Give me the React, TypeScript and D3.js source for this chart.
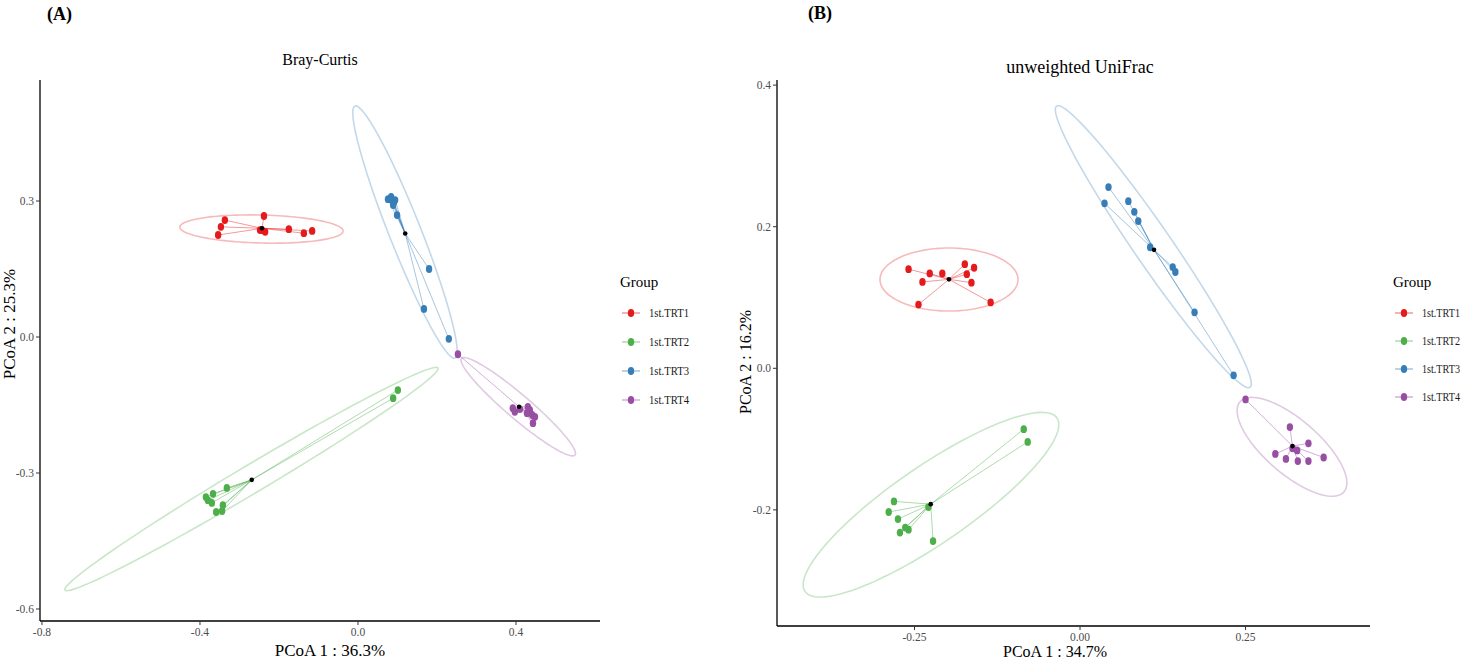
import React from 'react';
import * as d3 from 'd3';

type Pt = [number, number];

const groups = ['1st.TRT1', '1st.TRT2', '1st.TRT3', '1st.TRT4'];
const groupColors = ['#E41A1C', '#4DAF4A', '#377EB8', '#984EA3'];

// Bray-Curtis PCoA scores (PCoA 1, PCoA 2)
const brayTrt1: Pt[] = [
  [-0.337, 0.258], [-0.347, 0.243], [-0.354, 0.225], [-0.238, 0.267], [-0.248, 0.236],
  [-0.235, 0.232], [-0.175, 0.238], [-0.137, 0.229], [-0.116, 0.234], [-0.243, 0.236],
];
const brayTrt2: Pt[] = [
  [0.101, -0.117], [0.089, -0.135], [-0.332, -0.333], [-0.385, -0.353], [-0.367, -0.346],
  [-0.38, -0.36], [-0.37, -0.366], [-0.342, -0.371], [-0.359, -0.386], [-0.344, -0.384],
];
const brayTrt3: Pt[] = [
  [0.076, 0.304], [0.084, 0.309], [0.086, 0.302], [0.091, 0.298], [0.094, 0.302],
  [0.089, 0.291], [0.099, 0.269], [0.18, 0.15], [0.167, 0.062], [0.23, -0.004],
];
const brayTrt4: Pt[] = [
  [0.253, -0.038], [0.392, -0.157], [0.397, -0.165], [0.41, -0.159], [0.43, -0.154],
  [0.428, -0.168], [0.435, -0.161], [0.441, -0.172], [0.448, -0.176], [0.443, -0.19],
];

// unweighted UniFrac PCoA scores
const unifracTrt1: Pt[] = [
  [-0.259, 0.14], [-0.227, 0.134], [-0.208, 0.134], [-0.238, 0.122], [-0.174, 0.147],
  [-0.16, 0.142], [-0.171, 0.133], [-0.164, 0.121], [-0.244, 0.09], [-0.135, 0.093],
];
const unifracTrt2: Pt[] = [
  [-0.085, -0.086], [-0.079, -0.104], [-0.281, -0.188], [-0.289, -0.203], [-0.275, -0.213],
  [-0.264, -0.225], [-0.272, -0.232], [-0.259, -0.228], [-0.229, -0.196], [-0.222, -0.244],
];
const unifracTrt3: Pt[] = [
  [0.043, 0.256], [0.037, 0.233], [0.073, 0.236], [0.082, 0.221], [0.088, 0.208],
  [0.106, 0.171], [0.14, 0.143], [0.144, 0.136], [0.173, 0.079], [0.232, -0.01],
];
const unifracTrt4: Pt[] = [
  [0.25, -0.044], [0.317, -0.083], [0.345, -0.106], [0.321, -0.113], [0.328, -0.116],
  [0.295, -0.121], [0.311, -0.128], [0.329, -0.131], [0.345, -0.131], [0.368, -0.126],
];

// 95% confidence ellipses: centre, then two conjugate semi-axis vectors (data units)
const brayEllipses = [
  [-0.2443, 0.2382, 0.2067, -0.0044, -0.0009, -0.0309],
  [-0.2696, -0.3133, 0.4722, 0.2449, 0.0181, -0.0265],
  [0.119, 0.2316, -0.1266, 0.278, 0.0376, 0.013],
  [0.4058, -0.1538, 0.1435, -0.1066, -0.0197, -0.0201],
];
const unifracEllipses = [
  [-0.1979, 0.1254, 0.1042, 0.0, 0.0, 0.0445],
  [-0.2251, -0.1927, 0.1903, 0.1225, 0.0329, -0.0448],
  [0.1107, 0.1718, 0.1461, -0.1986, -0.0236, -0.0152],
  [0.3202, -0.1109, 0.0785, -0.0636, -0.0267, -0.0288],
];

const brayXTicks = [-0.8, -0.4, 0.0, 0.4];
const brayYTicks = [-0.6, -0.3, 0.0, 0.3];
const unifracXTicks = [-0.25, 0.0, 0.25];
const unifracYTicks = [-0.2, 0.0, 0.2, 0.4];

const SERIF = '"Liberation Serif", "Times New Roman", serif';

interface PanelProps {
  samples: Pt[][];
  ellipses: number[][];
  xDomain: [number, number];
  yDomain: [number, number];
  xRange: [number, number];
  yRange: [number, number];
  xTicks: number[];
  yTicks: number[];
  xDigits: number;
  yDigits: number;
  title: string;
  titleSize: number;
  titlePos: [number, number];
  tag: string;
  tagPos: [number, number];
  xLabel: string;
  xLabelPos: [number, number];
  yLabel: string;
  yLabelPos: [number, number];
  axisTitleSize: number;
  legendPos: [number, number];
  legendStep: number;
  legendTextWidth: number;
}

const fmt = (v: number, d: number) => v.toFixed(d);

function Panel(p: PanelProps) {
  const x = d3.scaleLinear().domain(p.xDomain).range(p.xRange);
  const y = d3.scaleLinear().domain(p.yDomain).range(p.yRange);
  const left = p.xRange[0];
  const right = p.xRange[1];
  const bottom = p.yRange[0];
  const top = p.yRange[1];

  const ellipsePath = (e: number[]) => {
    const [cx, cy, ux, uy, vx, vy] = e;
    const pts: [number, number][] = d3.range(120).map((i) => {
      const t = (i / 120) * Math.PI * 2;
      const dx = cx + Math.cos(t) * ux + Math.sin(t) * vx;
      const dy = cy + Math.cos(t) * uy + Math.sin(t) * vy;
      return [x(dx), y(dy)];
    });
    return d3.line().curve(d3.curveLinearClosed)(pts) || '';
  };

  const centroids = p.samples.map((s) => [d3.mean(s, (d) => d[0])!, d3.mean(s, (d) => d[1])!] as Pt);

  return (
    <g>
      <text x={p.tagPos[0]} y={p.tagPos[1]} fontFamily={SERIF} fontWeight="bold" fontSize={18} fill="#000">
        {p.tag}
      </text>
      <text x={p.titlePos[0]} y={p.titlePos[1]} fontFamily={SERIF} fontSize={p.titleSize} textAnchor="middle" fill="#000">
        {p.title}
      </text>

      {/* ellipses */}
      {p.ellipses.map((e, gi) => (
        <path key={'e' + gi} d={ellipsePath(e)} fill="none" stroke={groupColors[gi]} strokeOpacity={0.3} strokeWidth={1.6} />
      ))}

      {/* spider segments */}
      {p.samples.map((s, gi) =>
        s.map((d, i) => (
          <line
            key={'s' + gi + '-' + i}
            x1={x(centroids[gi][0])}
            y1={y(centroids[gi][1])}
            x2={x(d[0])}
            y2={y(d[1])}
            stroke={groupColors[gi]}
            strokeOpacity={0.75}
            strokeWidth={0.6}
          />
        ))
      )}

      {/* sample points */}
      {p.samples.map((s, gi) =>
        s.map((d, i) => (
          <ellipse key={'p' + gi + '-' + i} cx={x(d[0])} cy={y(d[1])} rx={3.2} ry={3.9} fill={groupColors[gi]} />
        ))
      )}

      {/* group centroids */}
      {centroids.map((c, gi) => (
        <circle key={'c' + gi} cx={x(c[0])} cy={y(c[1])} r={2.3} fill="#000" />
      ))}

      {/* axes */}
      <line x1={left} y1={top} x2={left} y2={bottom} stroke="#000" strokeWidth={1.3} />
      <line x1={left} y1={bottom} x2={right} y2={bottom} stroke="#000" strokeWidth={1.3} />
      {p.xTicks.map((t) => (
        <g key={'xt' + t}>
          <line x1={x(t)} x2={x(t)} y1={bottom} y2={bottom + 4} stroke="#333" strokeWidth={1} />
          <text x={x(t)} y={bottom + 15} fontFamily={SERIF} fontSize={11.5} fill="#4D4D4D" textAnchor="middle">
            {fmt(t, p.xDigits)}
          </text>
        </g>
      ))}
      {p.yTicks.map((t) => (
        <g key={'yt' + t}>
          <line x1={left - 4} x2={left} y1={y(t)} y2={y(t)} stroke="#333" strokeWidth={1} />
          <text x={left - 6} y={y(t) + 4} fontFamily={SERIF} fontSize={11.5} fill="#4D4D4D" textAnchor="end">
            {fmt(t, p.yDigits)}
          </text>
        </g>
      ))}
      <text x={p.xLabelPos[0]} y={p.xLabelPos[1]} fontFamily={SERIF} fontSize={p.axisTitleSize} textAnchor="middle" fill="#000">
        {p.xLabel}
      </text>
      <text
        transform={`translate(${p.yLabelPos[0]},${p.yLabelPos[1]}) rotate(-90)`}
        fontFamily={SERIF}
        fontSize={p.axisTitleSize}
        textAnchor="middle"
        fill="#000"
      >
        {p.yLabel}
      </text>

      {/* legend */}
      <g transform={`translate(${p.legendPos[0]},${p.legendPos[1]})`}>
        <text x={0} y={5} fontFamily={SERIF} fontSize={15} fill="#000">
          Group
        </text>
        {groups.map((g, gi) => {
          const ly = 31 + gi * p.legendStep;
          return (
            <g key={'l' + g}>
              <line x1={2} x2={20} y1={ly} y2={ly} stroke={groupColors[gi]} strokeOpacity={0.45} strokeWidth={1.5} />
              <ellipse cx={11} cy={ly} rx={3.2} ry={3.9} fill={groupColors[gi]} />
              <text
                x={29}
                y={ly + 4}
                fontFamily={SERIF}
                fontSize={11.5}
                fill="#1a1a1a"
                textLength={p.legendTextWidth}
                lengthAdjust="spacingAndGlyphs"
              >
                {g}
              </text>
            </g>
          );
        })}
      </g>
    </g>
  );
}

export default function App() {
  return (
    <svg
      width={1466}
      height={663}
      style={{ position: 'absolute', left: 0, top: 0, background: '#fff' }}
      xmlns="http://www.w3.org/2000/svg"
    >
      <rect width={1466} height={663} fill="#fff" />
      <Panel
        samples={[brayTrt1, brayTrt2, brayTrt3, brayTrt4]}
        ellipses={brayEllipses}
        xDomain={[-0.805, 0.6127]}
        yDomain={[-0.6265, 0.567]}
        xRange={[40, 600]}
        yRange={[621, 80]}
        xTicks={brayXTicks}
        yTicks={brayYTicks}
        xDigits={1}
        yDigits={1}
        title="Bray-Curtis"
        titleSize={16}
        titlePos={[320, 65]}
        tag="(A)"
        tagPos={[47, 20]}
        xLabel="PCoA 1 : 36.3%"
        xLabelPos={[330, 656]}
        yLabel="PCoA 2 : 25.3%"
        yLabelPos={[15, 324]}
        axisTitleSize={17}
        legendPos={[620, 282]}
        legendStep={29}
        legendTextWidth={40}
      />
      <Panel
        samples={[unifracTrt1, unifracTrt2, unifracTrt3, unifracTrt4]}
        ellipses={unifracEllipses}
        xDomain={[-0.4577, 0.438]}
        yDomain={[-0.364, 0.4072]}
        xRange={[777, 1370]}
        yRange={[626, 80]}
        xTicks={unifracXTicks}
        yTicks={unifracYTicks}
        xDigits={2}
        yDigits={1}
        title="unweighted UniFrac"
        titleSize={18}
        titlePos={[1080, 73]}
        tag="(B)"
        tagPos={[808, 19]}
        xLabel="PCoA 1 : 34.7%"
        xLabelPos={[1055, 657]}
        yLabel="PCoA 2 : 16.2%"
        yLabelPos={[751, 362]}
        axisTitleSize={16}
        legendPos={[1393, 282]}
        legendStep={28}
        legendTextWidth={38}
      />
    </svg>
  );
}
